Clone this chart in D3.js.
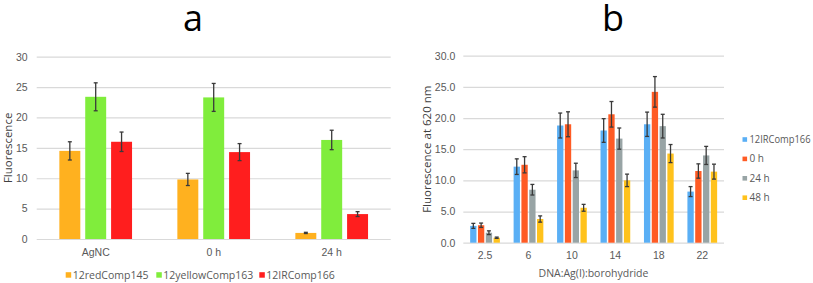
<!DOCTYPE html>
<html>
<head>
<meta charset="utf-8">
<script src="https://cdn.jsdelivr.net/npm/d3@7"></script>
<style>
body { margin: 0; background: #fff; }
svg { display: block; font-family: "Open Sans", Lato, sans-serif; }
.tick text { fill: #595959; font-size: 10.5px; }
</style>
</head>
<body>
<div id="visuals"></div>
<script>
/* global d3 */
var width = 813;
var height = 283;

// panel a
var a_categories = ["AgNC", "0 h", "24 h"];
var a_series = ["12redComp145", "12yellowComp163", "12IRComp166"];
var a_colors = ["#ffb11f", "#80ed3c", "#ff1e1e"];
var a_values = [
	[14.5, 9.8, 1.0],
	[23.4, 23.3, 16.3],
	[16.0, 14.3, 4.1]
];
var a_errors = [
	[1.5, 1.0, 0.1],
	[2.3, 2.3, 1.6],
	[1.6, 1.4, 0.4]
];
var a_ticks = [0, 5, 10, 15, 20, 25, 30];

// panel b
var b_categories = ["2.5", "6", "10", "14", "18", "22"];
var b_series = ["12IRComp166", "0 h", "24 h", "48 h"];
var b_colors = ["#5aaff5", "#ff5b24", "#98a4a5", "#ffc21c"];
var b_values = [
	[2.7, 12.2, 18.8, 18.0, 19.0, 8.2],
	[2.8, 12.5, 19.0, 20.6, 24.2, 11.5],
	[1.6, 8.5, 11.6, 16.7, 18.7, 14.0],
	[0.8, 3.8, 5.6, 10.0, 14.3, 11.4]
];
var b_errors = [
	[0.4, 1.25, 2.0, 1.9, 1.95, 0.8],
	[0.35, 1.3, 2.0, 2.05, 2.45, 1.15],
	[0.3, 0.85, 1.15, 1.7, 1.9, 1.45],
	[0.1, 0.5, 0.55, 1.0, 1.45, 1.2]
];
var b_ticks = [0, 5, 10, 15, 20, 25, 30];

var svg = d3.select("#visuals").append("svg")
	.attr("width", width)
	.attr("height", height);

function draw_panel(opt) {
	var g = svg.append("g");

	var y = d3.scaleLinear().domain([0, 30]).range([opt.bottom, opt.top]);

	var x0 = d3.scaleBand()
		.domain(opt.categories)
		.range([opt.left, opt.right])
		.paddingInner(opt.groupPad)
		.paddingOuter(opt.groupPad / 2);

	var x1 = d3.scaleBand()
		.domain(d3.range(opt.series.length))
		.range([0, x0.bandwidth()])
		.paddingInner(0.19);

	// grid
	var yAxis = d3.axisLeft(y)
		.tickValues(opt.ticks)
		.tickSize(-(opt.right - opt.left))
		.tickPadding(opt.tickPad)
		.tickFormat(opt.fmt);
	var ga = g.append("g")
		.attr("class", "y axis")
		.attr("transform", "translate(" + opt.left + ",0)")
		.call(yAxis);
	ga.select(".domain").remove();
	ga.selectAll(".tick line").attr("stroke", "#d9d9d9").attr("stroke-width", 1.2);

	// category labels
	var xAxis = d3.axisBottom(x0).tickSize(0).tickPadding(opt.catPad);
	var gx = g.append("g")
		.attr("class", "x axis")
		.attr("transform", "translate(0," + opt.bottom + ")")
		.call(xAxis);
	gx.select(".domain").remove();

	// bars
	opt.series.forEach(function(s, si) {
		var rows = opt.categories.map(function(c, ci) {
			return {cat: c, v: opt.values[si][ci], e: opt.errors[si][ci]};
		});
		var sg = g.append("g");
		sg.selectAll("rect")
			.data(rows)
			.enter()
			.append("rect")
			.attr("x", d => x0(d.cat) + x1(si))
			.attr("y", d => y(d.v))
			.attr("width", x1.bandwidth())
			.attr("height", d => y(0) - y(d.v))
			.attr("fill", opt.colors[si]);

		var eg = sg.selectAll("g.err")
			.data(rows)
			.enter()
			.append("g")
			.attr("class", "err")
			.attr("stroke", "#3a3a3a")
			.attr("stroke-width", 1.3);
		eg.append("line")
			.attr("x1", d => x0(d.cat) + x1(si) + x1.bandwidth() / 2)
			.attr("x2", d => x0(d.cat) + x1(si) + x1.bandwidth() / 2)
			.attr("y1", d => y(d.v + d.e))
			.attr("y2", d => y(d.v - d.e));
		[1, -1].forEach(function(sign) {
			eg.append("line")
				.attr("x1", d => x0(d.cat) + x1(si) + x1.bandwidth() / 2 - 2)
				.attr("x2", d => x0(d.cat) + x1(si) + x1.bandwidth() / 2 + 2)
				.attr("y1", d => y(d.v + sign * d.e))
				.attr("y2", d => y(d.v + sign * d.e));
		});
	});

	// y title
	g.append("text")
		.attr("transform", "translate(" + opt.ytitleX + "," + ((opt.top + opt.bottom) / 2) + ") rotate(-90)")
		.attr("text-anchor", "middle")
		.attr("dy", "0.35em")
		.attr("fill", "#404040")
		.style("font-size", "11.5px")
		.text(opt.ytitle);

	// panel letter
	g.append("text")
		.attr("x", opt.letterX)
		.attr("y", 31)
		.attr("text-anchor", "middle")
		.attr("fill", "#000")
		.style("font-size", "36px")
		.text(opt.letter);

	return g;
}

var ga = draw_panel({
	categories: a_categories, series: a_series, colors: a_colors,
	values: a_values, errors: a_errors, ticks: a_ticks,
	left: 36.7, right: 390.7, top: 56.7, bottom: 239,
	groupPad: 0.384, tickPad: 9, catPad: 10,
	fmt: d3.format("d"),
	ytitle: "Fluorescence", ytitleX: 8,
	letter: "a", letterX: 193
});

var gb = draw_panel({
	categories: b_categories, series: b_series, colors: b_colors,
	values: b_values, errors: b_errors, ticks: b_ticks,
	left: 463.3, right: 724, top: 55.7, bottom: 242.7,
	groupPad: 0.316, tickPad: 8, catPad: 9,
	fmt: d3.format(".1f"),
	ytitle: "Fluorescence at 620 nm", ytitleX: 427,
	letter: "b", letterX: 613
});

// legend a (horizontal)
var a_leg_x = [65.7, 156.3, 259.3];
var la = ga.selectAll("g.leg")
	.data(a_series)
	.enter()
	.append("g")
	.attr("class", "leg")
	.attr("transform", (d, i) => "translate(" + a_leg_x[i] + ",275)");
la.append("rect")
	.attr("x", 0).attr("y", -2.8)
	.attr("width", 5.5).attr("height", 5.5)
	.attr("fill", (d, i) => a_colors[i]);
la.append("text")
	.attr("x", 7).attr("dy", "0.35em")
	.attr("fill", "#595959")
	.style("font-size", "10.5px")
	.text(d => d);

// legend b (vertical)
var lb = gb.selectAll("g.leg")
	.data(b_series)
	.enter()
	.append("g")
	.attr("class", "leg")
	.attr("transform", (d, i) => "translate(742.5," + (139.5 + i * 19.4) + ")");
lb.append("rect")
	.attr("x", 0).attr("y", -2.3)
	.attr("width", 4.6).attr("height", 4.6)
	.attr("fill", (d, i) => b_colors[i]);
lb.append("text")
	.attr("x", 7).attr("dy", "0.35em")
	.attr("fill", "#595959")
	.style("font-size", "10px")
	.attr("textLength", (d, i) => i === 0 ? 61 : null)
	.attr("lengthAdjust", "spacingAndGlyphs")
	.text(d => d);

// x title b
gb.append("text")
	.attr("x", 593.5)
	.attr("y", 273.5)
	.attr("dy", "0.35em")
	.attr("text-anchor", "middle")
	.attr("fill", "#595959")
	.style("font-size", "10.5px")
	.text("DNA:Ag(I):borohydride");
</script>
</body>
</html>
